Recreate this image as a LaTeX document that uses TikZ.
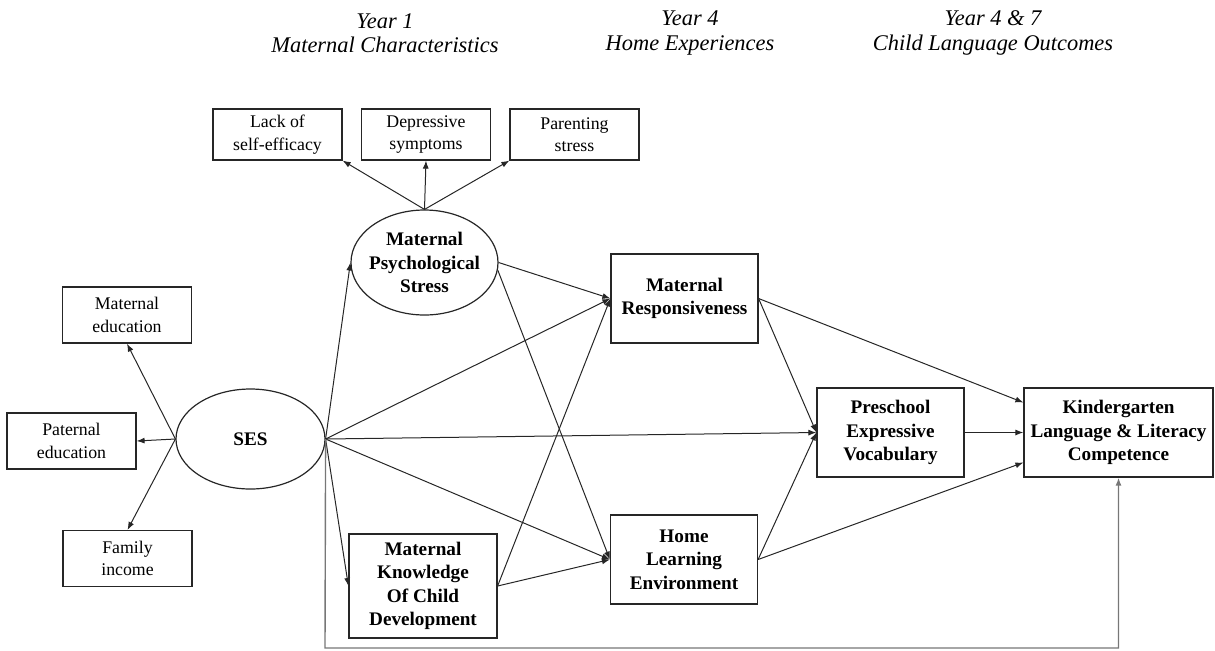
\documentclass[tikz,border=0pt]{standalone}
\usepackage{fontspec}
\setmainfont{Liberation Serif}
\usetikzlibrary{shapes.geometric, positioning, arrows.meta}
\usepackage{xcolor}
\definecolor{LineBlack}{HTML}{262626}
\definecolor{PathGray}{HTML}{777777}

\begin{document}
\begin{tikzpicture}[
            x=0.5pt, y=-0.5pt,
            obs/.style={draw=LineBlack, line width=0.6pt, minimum width=64.5pt, minimum height=28pt, inner sep=1pt, align=center, font=\fontsize{8.9}{11.3}\selectfont},
            ind/.style={obs, minimum height=25.5pt},
            boxtext/.style={align=center, font=\fontsize{9.6}{11.7}\selectfont\bfseries},
            box/.style={boxtext, draw=LineBlack, line width=0.6pt, minimum width=73.5pt, minimum height=44.5pt, inner sep=1pt},
            latent/.style={boxtext, ellipse, draw=LineBlack, line width=0.6pt, inner sep=0pt},
            heading/.style={align=center, font=\fontsize{11.2}{12.2}\selectfont\itshape},
            arrow/.style={-{Latex[length=4pt,width=3pt]}, line width=0.5pt, LineBlack},
            feedback/.style={arrow, draw=PathGray, line width=0.7pt}
        ]
            \useasboundingbox (0,0) rectangle (1215,650);

            % column headings
            \node[heading] (hyr1) at (385,33) {Year 1\\Maternal Characteristics};
            \node[heading] (hyr4) at (690,33) {Year 4\\Home Experiences};
            \node[heading] (hyr7) at (993,33) {Year 4 \& 7\\Child Language Outcomes};

            % latent factors
            \node[latent, minimum width=73.5pt, minimum height=52.5pt] (mps) at (424.5,262.5) {};
            \node[boxtext] (mpstext) at (mps) {Maternal\\Psychological\\Stress};
            \node[latent, minimum width=74.5pt, minimum height=50pt] (ses) at (250.5,439) {SES};

            % indicators
            \node[ind] (self) at (277.5,134.5) {Lack of\\self-efficacy};
            \node[ind] (dep) at (426,134.5) {Depressive\\symptoms};
            \node[ind] (par) at (574.5,134.5) {Parenting\\stress};
            \node[obs] (mated) at (127,315) {Maternal\\education};
            \node[obs] (pated) at (71.5,441) {Paternal\\education};
            \node[obs] (income) at (127.5,558.5) {Family\\income};

            % observed constructs
            \node[box, minimum height=52pt, minimum width=74pt] (know) at (423,586) {Maternal\\Knowledge\\Of Child\\Development};
            \node[box] (resp) at (684.5,298.5) {Maternal\\Responsiveness};
            \node[box] (home) at (684,559.5) {Home\\Learning\\Environment};
            \node[box] (vocab) at (890.5,432.5) {Preschool\\Expressive\\Vocabulary};
            \node[box, minimum width=94.5pt] (kinder) at (1118.5,432.5) {Kindergarten\\Language \& Literacy\\Competence};

            \draw[arrow] (mps.north) -- (self.south east);
            \draw[arrow] (mps.north) -- (dep.south);
            \draw[arrow] (mps.north) -- (par.south west);
            \draw[arrow] (ses.west) -- (mated.south);
            \draw[arrow] (ses.west) -- (pated.east);
            \draw[arrow] (ses.west) -- (income.north);

            \draw[arrow] (ses.east) -- (mps.west);
            \draw[arrow] (ses.east) -- (know.west);
            \draw[arrow] (ses.east) -- (resp.west);
            \draw[arrow] (ses.east) -- (vocab.west);
            \draw[arrow] (ses.east) -- (home.west);
            \draw[arrow] (mps.east) -- (resp.west);
            \draw[arrow] (mps.-6) -- (home.west);
            \draw[arrow] (know.east) -- (resp.west);
            \draw[arrow] (know.east) -- (home.west);

            \draw[arrow] (resp.east) -- (vocab.west);
            \draw[arrow] (home.east) -- (vocab.west);
            \draw[arrow] (resp.east) -- ([yshift=15pt]kinder.west);
            \draw[arrow] (vocab.east) -- (kinder.west);
            \draw[arrow] (home.east) -- ([yshift=-15pt]kinder.west);

            \coordinate (floor) at (325,648);
            \draw[feedback] (ses.east) -- (floor) -| (kinder.south);
        \end{tikzpicture}
\end{document}
